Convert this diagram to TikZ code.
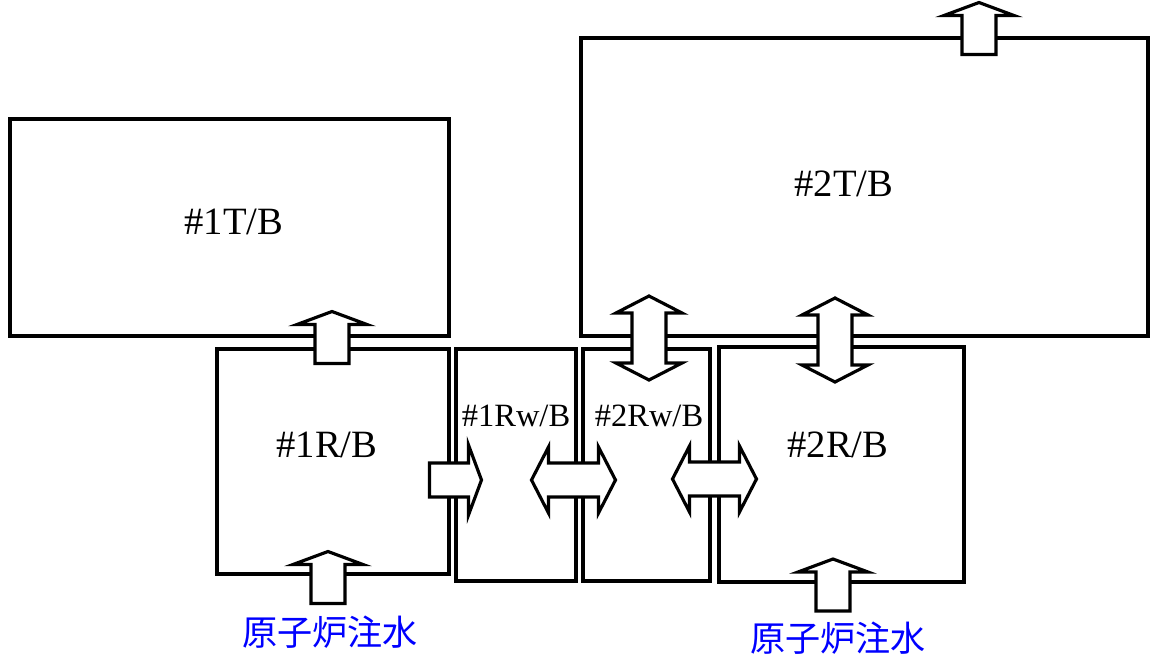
\documentclass[tikz,border=0pt]{standalone}
\usepackage{fontspec}
\setmainfont{Liberation Serif}
\newfontfamily\cjkfont{Noto Sans CJK JP}

\tikzset{
  box/.style={draw, line width=1.8pt, inner sep=0pt},
  lbl/.style={font=\fontsize{22}{26}\selectfont},
  rwlbl/.style={font=\fontsize{18.5}{22}\selectfont},
  inject/.style={text=blue, font=\cjkfont\fontsize{20}{24}\selectfont},
  fatarrow/.pic={
    \draw[line width=1.8pt, fill=white] (-17,26) -- (17,26) -- (17,-13) -- (35,-13)
      -- (0,-26) -- (-35,-13) -- (-17,-13) -- cycle;
  },
  dblarrow/.pic={
    \draw[line width=1.8pt, fill=white] (0,-42) -- (33,-25) -- (17,-25) -- (17,25)
      -- (33,25) -- (0,42) -- (-33,25) -- (-17,25) -- (-17,-25) -- (-33,-25) -- cycle;
  },
}

\begin{document}
\begin{tikzpicture}[x=0.02cm, y=-0.02cm]
\useasboundingbox (0,0) rectangle (1150,657);
\node[box, minimum width=8.78cm, minimum height=4.34cm] (t1) at (229.5,227.5) {};
\node[box, minimum width=11.34cm, minimum height=5.96cm] (t2) at (864.5,187) {};
\node[box, minimum width=4.64cm, minimum height=4.5cm] (r1) at (333,461.5) {};
\node[box, minimum width=2.4cm, minimum height=4.64cm] (rw1) at (516,465) {};
\node[box, minimum width=2.54cm, minimum height=4.64cm] (rw2) at (646.5,465) {};
\node[box, minimum width=4.9cm, minimum height=4.7cm] (r2) at (841.5,464.5) {};
\node[lbl] (t1lbl) at (234,222) {\#1T/B};
\node[lbl] (t2lbl) at (844,184) {\#2T/B};
\node[lbl] (r1lbl) at (327,445) {\#1R/B};
\node[lbl] (r2lbl) at (838,445) {\#2R/B};
\node[rwlbl] (rw1lbl) at (516,416) {\#1Rw/B};
\node[rwlbl] (rw2lbl) at (649,416) {\#2Rw/B};
\node[inject] (in1) at (330,632) {原子炉注水};
\node[inject] (in2) at (838,638) {原子炉注水};
\pic at (332,337.5) {fatarrow};
\pic at (979,28.5) {fatarrow};
\pic at (328,577.5) {fatarrow};
\pic at (833,585) {fatarrow};
\pic[rotate=-90] at (455.5,480) {fatarrow};
\pic at (649,338) {dblarrow};
\pic at (835,340) {dblarrow};
\pic[rotate=90] at (573.5,480) {dblarrow};
\pic[rotate=90] at (714.5,479) {dblarrow};
\end{tikzpicture}
\end{document}
